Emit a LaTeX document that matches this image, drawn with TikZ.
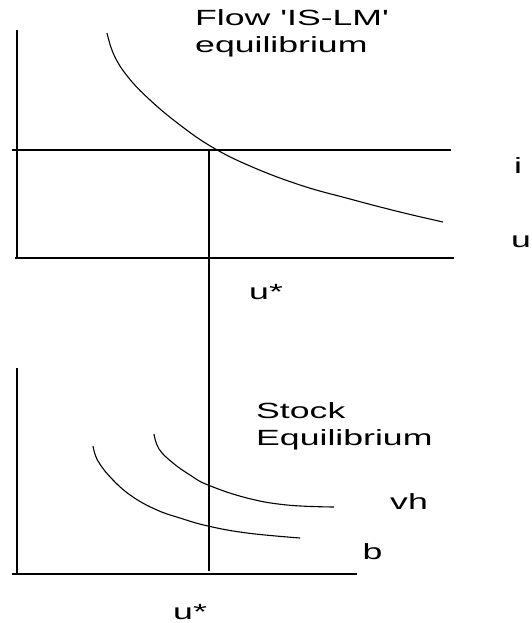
\documentclass[tikz,border=0pt]{standalone}
\usepackage{fontspec}
\setmainfont{Liberation Sans}
\newcommand{\widetext}[1]{\scalebox{1.62}[1]{#1}}
\begin{document}
\begin{tikzpicture}[x=1pt,y=-1pt,
  axisv/.style={line width=2.2pt},
  axish/.style={line width=1.5pt},
  curveline/.style={line width=1.1pt},
  lbl/.style={inner sep=0pt, font=\fontsize{22}{27}\selectfont, align=left}]
\useasboundingbox (0,0) rectangle (532,623);
% top panel
\coordinate (ttop) at (17,30);
\coordinate (torg) at (17,258);
\coordinate (tstart) at (15,258);
\coordinate (tend) at (454,258);
\coordinate (istart) at (12,150);
\coordinate (iend) at (451,150);
\coordinate (eq) at (209,150);
\coordinate (ustarend) at (209,571);
% bottom panel
\coordinate (btop) at (17,368);
\coordinate (borg) at (17,574);
\coordinate (bstart) at (12,574);
\coordinate (bend) at (357,574);

\draw[axisv] (ttop) -- (torg);
\draw[axish] (tstart) -- (tend);
\draw[axish] (istart) -- (iend);
\draw[axisv] (eq) -- (ustarend);
\draw[axisv] (btop) -- (borg);
\draw[axish] (bstart) -- (bend);

% IS curve
\draw[curveline] plot[smooth, tension=0.7] coordinates {(107,33) (114,55) (128,77) (150,100) (180,125) (212,147) (250,166) (300,185) (350,199) (400,212) (443,222)};
% vh curve
\draw[curveline] plot[smooth, tension=0.7] coordinates {(154,434) (159,449) (173,463) (190,475) (208,485) (247,498) (287,505) (334,507)};
% b curve
\draw[curveline] plot[smooth, tension=0.7] coordinates {(93,446) (98,461) (113,480) (133,497) (157,510) (180,518) (208,526) (247,533) (300,538)};

% labels
\node[lbl, anchor=base west] (flow) at (195,53) {\widetext{Flow \textquotesingle IS-LM\textquotesingle}\\\widetext{equilibrium}};
\node[lbl, anchor=base] (ilab) at (518,173) {\widetext{i}};
\node[lbl, anchor=base] (ulab) at (521,247) {\widetext{u}};
\node[lbl, anchor=base west] (ustartop) at (249,299) {\widetext{u*}};
\node[lbl, anchor=base west] (stock) at (256,445) {\widetext{Stock}\\\widetext{Equilibrium}};
\node[lbl, anchor=base] (vhlab) at (409,509) {\widetext{vh}};
\node[lbl, anchor=base] (blab) at (372.5,559) {\widetext{b}};
\node[lbl, anchor=base west] (ustarbot) at (173,619) {\widetext{u*}};
\end{tikzpicture}
\end{document}
